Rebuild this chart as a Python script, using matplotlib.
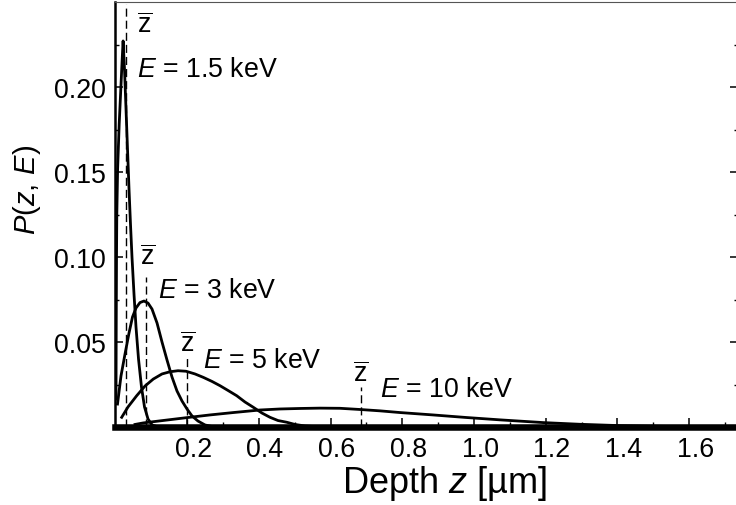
import matplotlib
matplotlib.use("Agg")
import matplotlib.pyplot as plt
from matplotlib.transforms import ScaledTranslation

plt.rcParams['font.family'] = ['Liberation Sans', 'DejaVu Sans']
plt.rcParams['mathtext.fontset'] = 'custom'
plt.rcParams['mathtext.rm'] = 'Liberation Sans'
plt.rcParams['mathtext.it'] = 'Liberation Sans:italic'
plt.rcParams['mathtext.sf'] = 'Liberation Sans'
plt.rcParams['mathtext.bf'] = 'Liberation Sans:bold'

# Depth distributions P(z, E) for four beam energies (z in micrometres)
energies = ["1.5", "3", "5", "10"]

z_15 = [0.0014, 0.0020, 0.0028, 0.0036, 0.0059, 0.0103, 0.0148, 0.0187, 0.0212,
        0.0251, 0.0293, 0.0335, 0.0377, 0.0418, 0.0460, 0.0516, 0.0572, 0.0642,
        0.0725, 0.0809, 0.0907, 0.1018, 0.1185]
p_15 = [0.0165, 0.0576, 0.0988, 0.1241, 0.1518, 0.1782, 0.1988, 0.2165, 0.2271,
        0.2106, 0.1871, 0.1635, 0.1400, 0.1194, 0.1000, 0.0782, 0.0588, 0.0400,
        0.0235, 0.0118, 0.0047, 0.0012, 0.0001]

z_3 = [0.0056, 0.0153, 0.0265, 0.0377, 0.0474, 0.0572, 0.0683, 0.0795, 0.0907,
       0.1018, 0.1158, 0.1297, 0.1437, 0.1576, 0.1715, 0.1855, 0.1994, 0.2134,
       0.2301, 0.2497, 0.2692]
p_3 = [0.0135, 0.0300, 0.0429, 0.0553, 0.0647, 0.0700, 0.0732, 0.0741, 0.0729,
       0.0694, 0.0612, 0.0500, 0.0394, 0.0294, 0.0212, 0.0153, 0.0106, 0.0065,
       0.0035, 0.0012, 0.0003]

z_5 = [0.0173, 0.0349, 0.0591, 0.0823, 0.1054, 0.1297, 0.1520, 0.1743, 0.1967,
       0.2218, 0.2449, 0.2692, 0.2915, 0.3138, 0.3381, 0.3612, 0.3844, 0.4086,
       0.4310, 0.4533, 0.4775, 0.5007, 0.5286, 0.5704]
p_5 = [0.0057, 0.0118, 0.0184, 0.0241, 0.0282, 0.0312, 0.0325, 0.0331, 0.0328,
       0.0312, 0.0292, 0.0268, 0.0243, 0.0215, 0.0184, 0.0147, 0.0116, 0.0082,
       0.0057, 0.0038, 0.0028, 0.0015, 0.0006, 0.0001]

z_10 = [0.0544, 0.0775, 0.1241, 0.1986, 0.2636, 0.3286, 0.4031, 0.4589, 0.5146,
        0.5704, 0.6262, 0.6820, 0.7378, 0.7936, 0.8856, 0.9777, 1.0725, 1.1925,
        1.2957, 1.4073, 1.5746, 1.7364]
p_10 = [0.0015, 0.0024, 0.0036, 0.0055, 0.0071, 0.0085, 0.0100, 0.0106, 0.0109,
        0.0111, 0.0110, 0.0103, 0.0095, 0.0085, 0.0071, 0.0056, 0.0042, 0.0026,
        0.0016, 0.0008, 0.0002, 0.0000]

# Mean depths and the height of each dashed marker
z_mean = [0.029, 0.085, 0.200, 0.685]
marker_top = [0.249, 0.088, 0.042, 0.0234]

# Annotation anchors (data coordinates)
zbar_pos = [(0.0823, 0.2324), (0.0893, 0.0959), (0.2008, 0.0447), (0.6848, 0.0271)]
elabel_pos = [(0.060, 0.2065), (0.1185, 0.0765), (0.244, 0.0353), (0.738, 0.0182)]

x_major = [0.2, 0.4, 0.6, 0.8, 1.0, 1.2, 1.4, 1.6]
x_minor = [0.1, 0.3, 0.5, 0.7, 0.9, 1.1, 1.3, 1.5, 1.7]
y_major = [0.05, 0.10, 0.15, 0.20]
y_minor = [0.025, 0.075, 0.125, 0.175, 0.225]
x_ticklabels = ["0.2", "0.4", "0.6", "0.8", "1.0", "1.2", "1.4", "1.6"]
y_ticklabels = ["0.05", "0.10", "0.15", "0.20"]

W, H, DPI = 736, 506, 100
fig = plt.figure(figsize=(W / DPI, H / DPI), dpi=DPI)
ax = fig.add_axes([115.5 / W, 78 / H, (738 - 115.5) / W, 425 / H])

curves = [(z_15, p_15), (z_3, p_3), (z_5, p_5), (z_10, p_10)]
for (zz, pp) in curves:
    ax.plot(zz, pp, color='black', lw=2.0, solid_joinstyle='round', zorder=3)

for zm, top in zip(z_mean, marker_top):
    ax.plot([zm, zm], [0, top], color='black', lw=1.0, dashes=(5.8, 2.9), zorder=2)

fs = 19.3
for (zx, zy) in zbar_pos:
    ax.text(zx, zy, r'$\overline{\mathrm{z}}$', ha='center', va='baseline', fontsize=fs)
for e, (ex, ey) in zip(energies, elabel_pos):
    ax.text(ex, ey, r'$E$ = %s keV' % e, ha='left', va='baseline', fontsize=fs)

ax.set_xlim(0, 1.7364)
ax.set_ylim(0, 0.25)
ax.set_xticks(x_major)
ax.set_xticks(x_minor, minor=True)
ax.set_yticks(y_major)
ax.set_yticks(y_minor, minor=True)
ax.set_xticklabels(x_ticklabels, fontsize=fs)
ax.set_yticklabels(y_ticklabels, fontsize=fs)

ax.tick_params(axis='x', which='major', direction='in', length=6.8, width=1.1, pad=6.5,
               top=False, bottom=True)
ax.tick_params(axis='x', which='minor', direction='in', length=3.6, width=1.0,
               top=False, bottom=True)
ax.tick_params(axis='y', which='major', direction='in', length=6.0, width=1.1, pad=7.2,
               left=True, right=True)
ax.tick_params(axis='y', which='minor', direction='in', length=2.9, width=1.0,
               left=True, right=True)

shift = ScaledTranslation(6 / DPI, 0, fig.dpi_scale_trans)
for lbl in ax.get_xticklabels():
    lbl.set_transform(lbl.get_transform() + shift)

ax.spines['bottom'].set_linewidth(4.7)
ax.spines['left'].set_linewidth(1.8)
ax.spines['top'].set_linewidth(0.8)
ax.spines['top'].set_color('#555555')
ax.spines['right'].set_visible(False)

ax.set_xlabel(r'Depth $z$ [µm]', fontsize=26)
ax.xaxis.label.set_va('baseline')
ax.xaxis.set_label_coords(0.5277, -0.153)
ax.set_ylabel(r'$P(z,\,E)$', fontsize=21)
ax.yaxis.set_label_coords(-0.1165, 0.56)

fig.savefig('out.png', dpi=DPI)
